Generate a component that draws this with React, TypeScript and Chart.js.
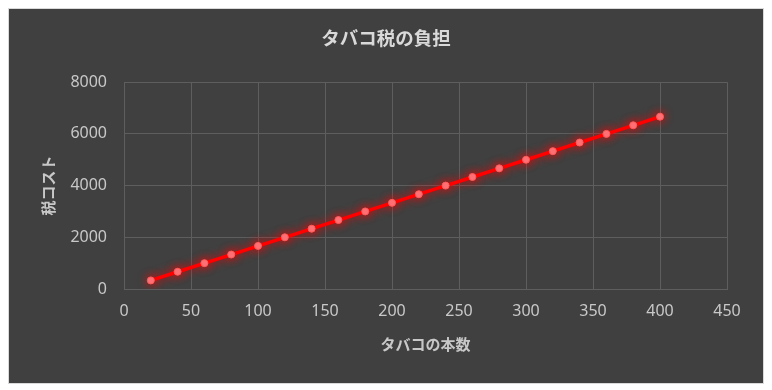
import React, { useEffect, useRef } from "react";
import { Chart, registerables } from "chart.js";

Chart.register(...registerables);

const cigaretteCounts = [20, 40, 60, 80, 100, 120, 140, 160, 180, 200, 220, 240, 260, 280, 300, 320, 340, 360, 380, 400];
const taxCosts = [333, 667, 1000, 1333, 1667, 2000, 2333, 2667, 3000, 3333, 3667, 4000, 4333, 4667, 5000, 5333, 5667, 6000, 6333, 6667];
const chartTitle = "タバコ税の負担";
const xAxisTitle = "タバコの本数";
const yAxisTitle = "税コスト";

const glowPlugin = {
  id: "glow",
  beforeDatasetDraw(chart: any) {
    const ctx = chart.ctx;
    ctx.save();
    ctx.shadowColor = "rgba(255,0,0,0.9)";
    ctx.shadowBlur = 10;
  },
  afterDatasetDraw(chart: any) {
    chart.ctx.restore();
  },
};

const bgPlugin = {
  id: "bg",
  beforeDraw(chart: any) {
    const ctx = chart.ctx;
    ctx.save();
    ctx.fillStyle = "#404040";
    ctx.fillRect(0, 0, chart.width, chart.height);
    ctx.restore();
  },
};

export default function App() {
  const ref = useRef<HTMLCanvasElement | null>(null);
  useEffect(() => {
    if (!ref.current) return;
    const tickFont = { family: "'Noto Sans', sans-serif", size: 16 };
    const titleFont = { family: "'Noto Sans CJK JP', sans-serif", size: 15, weight: "bold" as const };
    const chart = new Chart(ref.current, {
      type: "line",
      data: {
        datasets: [
          {
            data: cigaretteCounts.map((x, i) => ({ x, y: taxCosts[i] })),
            borderColor: "#ff0000",
            borderWidth: 3.5,
            pointBackgroundColor: "#ff7c80",
            pointBorderColor: "#ff5a5a",
            pointBorderWidth: 1,
            pointRadius: 3.5,
            tension: 0,
          },
        ],
      },
      options: {
        responsive: false,
        animation: false,
        layout: { padding: 0 },
        plugins: {
          legend: { display: false },
          tooltip: { enabled: false },
          title: {
            display: true,
            text: chartTitle,
            color: "#d9d9d9",
            font: { family: "'Noto Sans CJK JP', sans-serif", size: 18.5, weight: "bold" },
            padding: { top: 18, bottom: 33 },
          },
        },
        scales: {
          x: {
            type: "linear",
            min: 0,
            max: 450,
            ticks: { stepSize: 50, color: "#c8c8c8", font: tickFont, padding: 13 },
            grid: { color: "#5e5e5e", drawTicks: false },
            border: { color: "#5e5e5e" },
            title: {
              display: true,
              text: xAxisTitle,
              color: "#c8c8c8",
              font: titleFont,
              padding: { top: 0, bottom: 30 },
            },
            afterFit(scale: any) {
              scale.height = 94;
            },
          },
          y: {
            min: 0,
            max: 8000,
            ticks: {
              stepSize: 2000,
              color: "#c8c8c8",
              font: tickFont,
              padding: 17,
              callback: (v: any) => String(v),
            },
            grid: { color: "#5e5e5e", drawTicks: false },
            border: { color: "#5e5e5e" },
            title: {
              display: true,
              text: yAxisTitle,
              color: "#c8c8c8",
              font: titleFont,
              padding: { top: 30, bottom: 0 },
            },
            afterFit(scale: any) {
              scale.width = 115;
            },
          },
          yRight: {
            position: "right",
            min: 0,
            max: 8000,
            ticks: { display: false },
            grid: { display: false, drawTicks: false },
            border: { display: false },
            afterFit(scale: any) {
              scale.width = 36;
            },
          },
        },
      },
      plugins: [bgPlugin, glowPlugin],
    });
    return () => chart.destroy();
  }, []);
  return (
    <div style={{ width: 754, height: 374, border: "1px solid #d9d9d9", background: "#404040" }}>
      <canvas ref={ref} width={754} height={374} style={{ display: "block" }} />
    </div>
  );
}
